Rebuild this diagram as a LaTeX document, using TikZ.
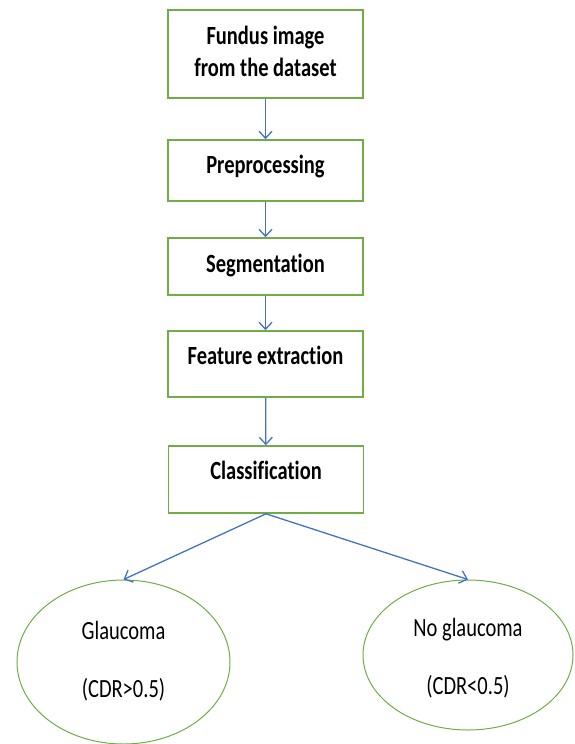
\documentclass[tikz,border=0pt]{standalone}
\usepackage{fontspec}
\setmainfont{Carlito}[Ligatures=NoCommon]
\usetikzlibrary{shapes.geometric, arrows.meta}
\definecolor{boxgreen}{HTML}{70AD47}
\definecolor{arrowblue}{HTML}{4472C4}
% text as the reference shows it: a little taller than wide
\newcommand{\tallt}[2][0pt]{\raisebox{#1}[\height][\depth]{\scalebox{1}[1.28]{\begin{tabular}{@{}c@{}}#2\end{tabular}}}}
\tikzset{>={Straight Barb[length=7pt,width=13pt]}}
\tikzset{
  stagebox/.style={draw=boxgreen, line width=1.6pt, rectangle, minimum width=195pt,
    font=\fontsize{20.5}{25}\selectfont\bfseries, inner sep=0pt},
  outcome/.style={draw=boxgreen, line width=1pt, ellipse, inner sep=0pt,
    font=\fontsize{20.5}{25}\selectfont},
  flow/.style={->, arrowblue, line width=1.3pt}
}

\begin{document}
\begin{tikzpicture}[x=1pt, y=-1pt]
     \useasboundingbox (0,0) rectangle (574,744);
     \node [stagebox, minimum height=88pt] (fundus) at (265.5,54) {\tallt{Fundus image\\from the dataset}};
     \node [stagebox, minimum height=61pt] (prep) at (265.5,170.5) {\tallt[3pt]{Preprocessing}};
     \node [stagebox, minimum height=57pt] (seg) at (265.5,266.5) {\tallt{Segmentation}};
     \node [stagebox, minimum height=66pt] (feat) at (265.5,364) {\tallt[6pt]{Feature extraction}};
     \node [stagebox, minimum height=67pt] (cls) at (266,479.5) {\tallt[6pt]{Classification}};
     \node [outcome, minimum width=213pt, minimum height=164pt] (glau) at (123.5,662) {\tallt{Glaucoma\\[20pt](CDR>0.5)}};
     \node [outcome, minimum width=210pt, minimum height=150pt] (noglau) at (468,655) {\tallt[-4pt]{No glaucoma\\[20pt](CDR<0.5)}};
     \draw[flow] (fundus) -- (prep);
     \draw[flow] (prep) -- (seg);
     \draw[flow] (seg) -- (feat);
     \draw[flow] (feat) -- (cls);
     \draw[flow] (cls.south) -- (glau.north);
     \draw[flow] (cls.south) -- (noglau.north);
\end{tikzpicture}
\end{document}
